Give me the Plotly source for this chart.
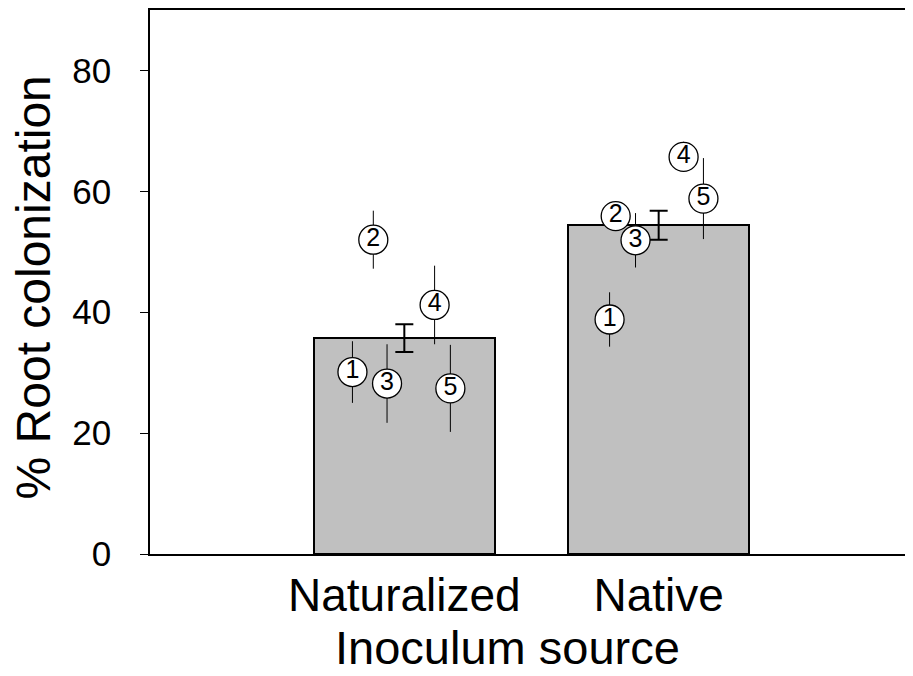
import plotly.graph_objects as go

categories = ["Naturalized", "Native"]
means = [35.7, 54.4]
mean_se = [2.3, 2.4]

pop_ids = ["1", "2", "3", "4", "5"]
nat_vals = [30.1, 52.0, 28.2, 41.2, 27.4]
nat_err = [5.1, 4.8, 6.5, 6.5, 7.2]
nat_offsets = [-0.204, -0.122, -0.068, 0.119, 0.181]
native_vals = [38.8, 55.9, 51.9, 65.7, 58.8]
native_err = [4.5, 1.8, 4.5, 2.5, 6.7]
native_offsets = [-0.193, -0.169, -0.091, 0.098, 0.176]

y_ticks = [0, 20, 40, 60, 80]

FONT = "Arial, Liberation Sans, sans-serif"

fig = go.Figure()

fig.add_trace(go.Bar(
    x=[0, 1], y=means, width=0.71,
    marker=dict(color="#C0C0C0", line=dict(color="black", width=2)),
    error_y=dict(type="data", array=mean_se, visible=True, color="black",
                 thickness=2, width=9),
    showlegend=False, hoverinfo="skip",
))

groups = [(0, nat_vals, nat_err, nat_offsets), (1, native_vals, native_err, native_offsets)]
for gi, vals, errs, offs in groups:
    xs = [gi + o for o in offs]
    fig.add_trace(go.Scatter(
        x=xs, y=vals, mode="markers+text", text=pop_ids,
        textposition="middle center",
        textfont=dict(family=FONT, size=25, color="black"),
        marker=dict(symbol="circle", size=29, color="white",
                    line=dict(color="black", width=1.3)),
        error_y=dict(type="data", array=errs, visible=True, color="black",
                     thickness=1, width=0),
        showlegend=False, cliponaxis=False,
    ))

fig.update_layout(
    width=905, height=668,
    margin=dict(l=142, r=0, t=2, b=122),
    plot_bgcolor="white", paper_bgcolor="white",
    font=dict(family=FONT, color="black"),
    bargap=0,
    xaxis=dict(
        range=[-1, 2], tickvals=[0, 1], ticktext=categories,
        showline=True, linecolor="black", linewidth=2, mirror=True,
        ticks="", showgrid=False, zeroline=False,
        tickfont=dict(size=46, family=FONT),
    ),
    yaxis=dict(
        range=[0, 90], tickvals=y_ticks,
        showline=True, linecolor="black", linewidth=1.5, mirror=False,
        ticks="outside", ticklen=8, tickwidth=1, tickcolor="black",
        showgrid=False, zeroline=False,
        tickfont=dict(size=35, family=FONT),
        ticklabelstandoff=22,
    ),
    annotations=[
        dict(text="Inoculum source", xref="paper", yref="paper",
             x=0.469, y=0, yshift=-93, xanchor="center", yanchor="middle",
             showarrow=False, font=dict(size=47, family=FONT)),
        dict(text="% Root colonization", xref="paper", yref="paper",
             x=0, xshift=-117, y=0.49, textangle=-90,
             xanchor="center", yanchor="middle",
             showarrow=False, font=dict(size=48, family=FONT)),
    ],
)

fig.write_html("out.html")
